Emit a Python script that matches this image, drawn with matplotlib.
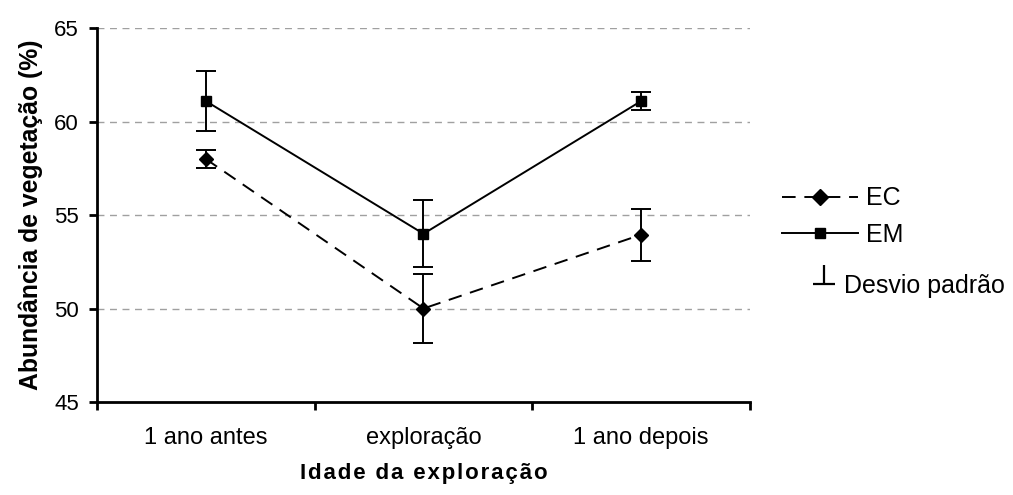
import numpy as np
import matplotlib
matplotlib.use("Agg")
import matplotlib.pyplot as plt
from matplotlib.lines import Line2D
from matplotlib.path import Path

plt.rcParams['font.family'] = ['Liberation Sans', 'DejaVu Sans']

categorias = ['1 ano antes', 'exploração', '1 ano depois']
ec = [58.0, 50.0, 53.95]
ec_dp = [0.5, 1.87, 1.4]
em = [61.1, 54.0, 61.1]
em_dp = [1.6, 1.8, 0.46]
y_ticks = [45, 50, 55, 60, 65]

fig = plt.figure(figsize=(10.13, 4.95), dpi=100)
ax = fig.add_axes([0.0958, 0.188, 0.6445, 0.755])

x = np.arange(len(categorias)) + 0.5
tracejado = (0, (7, 4.5))

# linhas com desvio padrao
ax.errorbar(x, ec, yerr=ec_dp, color='black', linestyle=tracejado, lw=1.4,
            marker='D', markersize=7, capsize=7.5, elinewidth=1.4, capthick=1.4)
ax.errorbar(x, em, yerr=em_dp, color='black', linestyle='-', lw=1.4,
            marker='s', markersize=7, capsize=7.5, elinewidth=1.4, capthick=1.4)

ax.set_xlim(0, 3)
ax.set_ylim(45, 65)
ax.set_yticks(y_ticks)
ax.set_xticks([0, 1, 2, 3])
ax.set_xticklabels([])
ax.set_xticks(x, minor=True)
ax.set_xticklabels(categorias, minor=True)
ax.tick_params(axis='x', which='minor', length=0, pad=18, labelsize=17)
ax.tick_params(axis='x', which='major', length=6, width=2, direction='out')
ax.tick_params(axis='y', length=6, width=2, direction='out', labelsize=16, pad=7)

for g in y_ticks[1:]:
    ax.axhline(g, color='#a0a0a0', lw=1, linestyle=(0, (5, 4)), zorder=0)

ax.spines['top'].set_visible(False)
ax.spines['right'].set_visible(False)
ax.spines['left'].set_linewidth(2)
ax.spines['bottom'].set_linewidth(2)

ax.set_ylabel('Abundância de vegetação (%)', fontsize=17.8, fontweight='bold', labelpad=8)
xlab = '\u200a'.join('Idade da exploração')
ax.set_xlabel(xlab, fontsize=16, fontweight='bold', labelpad=10)

handles = [
    Line2D([], [], color='black', linestyle=tracejado, lw=1.4, marker='D', markersize=8),
    Line2D([], [], color='black', linestyle='-', lw=1.4, marker='s', markersize=7),
]
leg = ax.legend(handles, ['EC', 'EM'], loc='center left',
                bbox_to_anchor=(1.034, 0.496), frameon=False, fontsize=18,
                handlelength=3.04, handletextpad=0.3, labelspacing=0.5,
                borderaxespad=0)
ax.add_artist(leg)

# simbolo do desvio padrao (um "⊥")
perp = Path([(-11, 0), (11, 0), (0, 0), (0, 19)],
            [Path.MOVETO, Path.LINETO, Path.MOVETO, Path.LINETO])
dp = Line2D([], [], color='black', linestyle='none', marker=perp,
            markersize=27, markerfacecolor='none', markeredgewidth=1.6)
ax.legend([dp], ['Desvio padrão'], loc='center left',
          bbox_to_anchor=(1.079, 0.31), frameon=False, fontsize=18,
          handlelength=1.0, handletextpad=0.3, borderaxespad=0)

fig.savefig('out.png', dpi=100)
